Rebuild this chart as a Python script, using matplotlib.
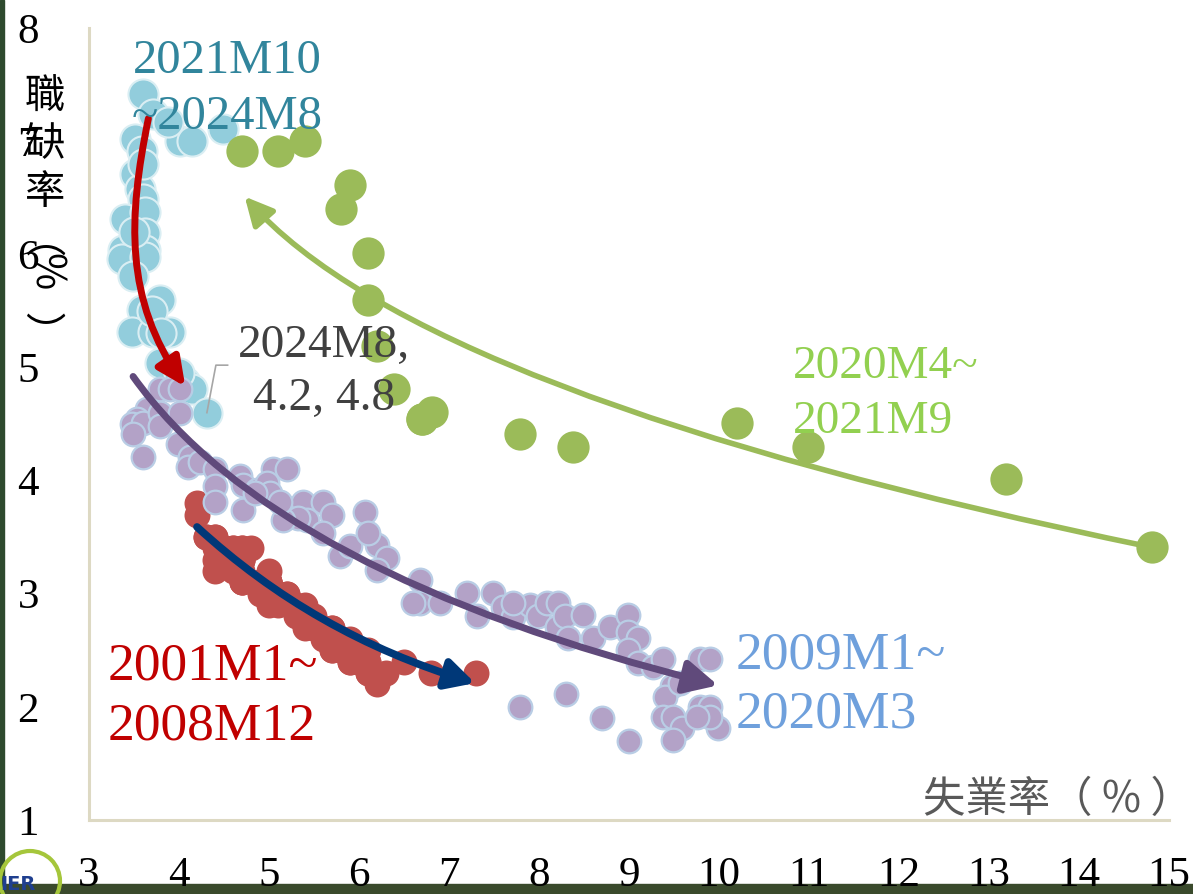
import matplotlib
matplotlib.use("Agg")
import matplotlib.pyplot as plt
from matplotlib.path import Path
from matplotlib.patches import FancyArrowPatch, Circle, Rectangle

plt.rcParams['font.family'] = ['Liberation Serif', 'Noto Sans CJK TC', 'DejaVu Sans']

# ---- data (unemployment rate %, job openings rate %) ----
# 2001M1 ~ 2008M12
red_u = [4.2, 4.2, 4.3, 4.4, 4.3, 4.5, 4.6, 4.9, 5.0, 5.3, 5.5, 5.7,
         5.7, 5.7, 5.7, 5.9, 5.8, 5.8, 5.8, 5.7, 5.7, 5.7, 5.9, 6.0,
         5.8, 5.9, 5.9, 6.0, 6.1, 6.3, 6.2, 6.1, 6.1, 6.0, 5.8, 5.7,
         5.7, 5.6, 5.8, 5.6, 5.6, 5.6, 5.5, 5.4, 5.4, 5.5, 5.4, 5.4,
         5.3, 5.4, 5.2, 5.2, 5.1, 5.0, 5.0, 4.9, 5.0, 5.0, 5.0, 4.9,
         4.7, 4.8, 4.7, 4.7, 4.6, 4.6, 4.7, 4.7, 4.5, 4.4, 4.5, 4.4,
         4.6, 4.5, 4.4, 4.5, 4.4, 4.6, 4.7, 4.6, 4.7, 4.7, 4.7, 5.0,
         5.0, 4.9, 5.1, 5.0, 5.4, 5.6, 5.8, 6.1, 6.1, 6.5, 6.8, 7.3]
red_v = [3.8, 3.7, 3.5, 3.4, 3.5, 3.3, 3.3, 3.1, 3.0, 2.8, 2.8, 2.7,
         2.7, 2.6, 2.6, 2.6, 2.5, 2.6, 2.6, 2.6, 2.5, 2.6, 2.5, 2.5,
         2.5, 2.4, 2.4, 2.4, 2.4, 2.3, 2.2, 2.3, 2.3, 2.4, 2.5, 2.5,
         2.6, 2.6, 2.6, 2.7, 2.7, 2.7, 2.7, 2.7, 2.8, 2.7, 2.8, 2.8,
         2.9, 2.9, 3.0, 3.0, 3.0, 3.1, 3.1, 3.1, 3.1, 3.2, 3.1, 3.1,
         3.4, 3.4, 3.4, 3.3, 3.4, 3.4, 3.3, 3.3, 3.4, 3.5, 3.4, 3.5,
         3.3, 3.4, 3.3, 3.3, 3.2, 3.3, 3.2, 3.2, 3.1, 3.1, 3.1, 3.0,
         3.1, 3.0, 2.9, 2.9, 2.8, 2.7, 2.6, 2.5, 2.4, 2.4, 2.3, 2.3]

# 2009M1 ~ 2020M3
purple_u = [3.79, 3.90, 4.01, 3.64, 3.53, 3.48, 3.60, 3.49, 3.60, 3.79, 3.79, 4.01, 3.99,
            4.12, 4.10, 4.23, 4.40, 4.40, 4.40, 4.68, 4.71, 4.87, 5.04, 5.20, 4.98, 5.01,
            4.71, 5.38, 5.42, 5.32, 5.16,
            4.84, 5.12, 5.60, 5.70, 5.60, 5.79, 6.07, 6.20, 6.31, 6.68, 6.68,
            5.90, 6.10, 6.20, 6.60, 6.90, 7.20, 7.31, 7.49, 7.60, 7.71, 7.90, 7.99, 8.09,
            7.71, 8.21, 8.20, 8.29, 8.32, 8.49, 8.60, 8.79, 8.99, 8.99, 9.10, 8.99, 9.10,
            9.27, 9.38, 9.48, 9.40, 9.57, 9.79, 9.90, 9.79, 9.90, 9.99, 9.38, 9.49, 9.59,
            9.49, 7.79, 8.30, 8.70, 9.00, 9.90, 9.76]
purple_v = [4.81, 4.81, 4.81, 4.63, 4.54, 4.50, 4.51, 4.41, 4.21, 4.60, 4.48, 4.60, 4.32,
            4.21, 4.12, 4.16, 4.10, 3.95, 3.81, 4.04, 3.96, 3.92, 4.10, 4.10, 3.98, 3.89,
            3.74, 3.81, 3.65, 3.67, 3.65,
            3.89, 3.81, 3.81, 3.70, 3.54, 3.33, 3.72, 3.43, 3.32, 3.12, 2.92,
            3.42, 3.54, 3.21, 2.92, 2.92, 3.01, 2.80, 3.01, 2.88, 2.79, 2.90, 2.80, 2.92,
            2.92, 2.92, 2.71, 2.80, 2.61, 2.81, 2.61, 2.71, 2.81, 2.66, 2.61, 2.50, 2.39,
            2.35, 2.42, 2.18, 2.09, 2.21, 2.42, 2.42, 2.00, 2.00, 1.81, 1.91, 1.91, 1.81,
            1.71, 2.00, 2.11, 1.90, 1.70, 1.91, 1.91]

# 2020M4 ~ 2021M9
green_u = [14.81, 13.19, 10.99, 10.20, 8.38, 7.79, 6.81, 6.70, 6.70, 6.39, 6.20, 6.10,
           6.10, 5.80, 5.90, 5.40, 5.10, 4.70]
green_v = [3.41, 4.01, 4.30, 4.51, 4.30, 4.41, 4.61, 4.54, 4.54, 4.81, 5.19, 5.60,
           6.01, 6.40, 6.61, 7.00, 6.91, 6.91]

# 2021M10 ~ 2024M8
blue_u = [3.60, 3.71, 3.51, 4.01, 4.14, 3.88, 4.49, 3.59, 3.51, 3.57, 3.60, 3.40, 3.62,
          3.62, 3.38, 3.62, 3.37, 3.62, 3.49, 3.59, 3.79, 3.48, 3.71, 3.90, 3.79, 4.07,
          4.14, 4.31, 3.60, 3.50, 3.70, 3.80, 4.00]
blue_v = [7.42, 7.24, 7.02, 7.00, 7.00, 7.17, 7.11, 6.91, 6.71, 6.58, 6.49, 6.31, 6.37,
          6.19, 6.04, 6.04, 5.96, 5.98, 5.81, 5.51, 5.60, 5.31, 5.31, 5.31, 5.04, 4.87,
          4.81, 4.60, 6.80, 6.20, 5.50, 5.30, 4.95]

x_ticks = list(range(3, 16))
y_ticks = list(range(1, 9))

# trend arrows (bezier control points, data coords)
red_arrow = [(3.66, 7.20), (3.43, 6.31), (3.40, 5.60), (4.07, 4.83)]
purple_arrow = [(3.49, 4.92), (5.06, 3.17), (9.99, 2.19)]
navy_arrow = [(4.20, 3.59), (5.50, 2.64), (7.29, 2.21)]
green_arrow = [(14.81, 3.41), (6.69, 4.74), (4.73, 6.51)]

fig = plt.figure(figsize=(11.93, 8.94), dpi=100)
ax = fig.add_axes([89/1193, 74/894, 1080/1193, 792/894])

ax.scatter(red_u, red_v, s=350, color='#C0504D', linewidths=0, zorder=2)
ax.scatter(blue_u, blue_v, s=470, color='#92CDDC', edgecolors='#DAEEF3', linewidths=1.5, zorder=3)
ax.scatter(purple_u, purple_v, s=290, color='#B3A2C7', edgecolors='#B9CDE5', linewidths=1.6, zorder=4)
ax.scatter(green_u, green_v, s=540, color='#9BBB59', linewidths=0, zorder=5)


def curve_arrow(pts, color, lw, hl, hw):
    if len(pts) == 4:
        codes = [Path.MOVETO, Path.CURVE4, Path.CURVE4, Path.CURVE4]
    else:
        codes = [Path.MOVETO, Path.CURVE3, Path.CURVE3]
    arr = FancyArrowPatch(path=Path(pts, codes),
                          arrowstyle='-|>,head_length=%g,head_width=%g' % (hl, hw),
                          mutation_scale=1, color=color, lw=lw, zorder=6)
    ax.add_patch(arr)


curve_arrow(red_arrow, '#C00000', 5, 17, 8)
curve_arrow(purple_arrow, '#604A7B', 5, 20, 10)
curve_arrow(navy_arrow, '#003878', 5.5, 17, 9)
curve_arrow(green_arrow, '#9BBB59', 4, 17, 8.5)

# labels
ax.text(4.54, 7.46, '2021M10\n~2024M8', color='#31859C', fontsize=35,
        ha='center', va='center', linespacing=1.33, zorder=7)
ax.text(5.61, 4.96, '2024M8,\n4.2, 4.8', color='#404040', fontsize=34,
        ha='center', va='center', linespacing=1.33, zorder=7)
ax.plot([4.54, 4.41, 4.31], [5.02, 5.02, 4.60], color='#A6A6A6', lw=1.2, zorder=7)
ax.text(10.82, 4.76, '2020M4~\n2021M9', color='#92D050', fontsize=34,
        ha='left', va='center', linespacing=1.38, zorder=7)
ax.text(10.18, 2.19, '2009M1~\n2020M3', color='#6FA0DC', fontsize=38.5,
        ha='left', va='center', linespacing=1.3, zorder=7)
ax.text(3.21, 2.09, '2001M1~\n2008M12', color='#C00000', fontsize=38.5,
        ha='left', va='center', linespacing=1.33, zorder=7)

ax.set_xlim(3, 15)
ax.set_ylim(1, 8)
ax.set_xticks(x_ticks)
ax.set_yticks(y_ticks)
ax.tick_params(length=0, labelsize=31, labelcolor='black')
ax.tick_params(axis='x', pad=26)
ax.tick_params(axis='y', pad=36)
for side in ['top', 'right']:
    ax.spines[side].set_visible(False)
for side in ['left', 'bottom']:
    ax.spines[side].set_color('#DDD9C3')
    ax.spines[side].set_linewidth(2.2)

cjk = ['Noto Sans CJK TC', 'DejaVu Sans']
fig.text(1.0, 1 - 800/894, '失業率（ % ）', family=cjk, fontsize=30.5,
         color='#595959', ha='right', va='center')
fig.text(45/1193, 1 - 145/894, '職\n缺\n率', family=cjk, fontsize=29,
         color='black', ha='center', va='center', linespacing=1.2)
fig.text(45/1193, 1 - 240/894, '︵', family=cjk, fontsize=29,
         color='black', ha='center', va='center')
fig.text(45/1193, 1 - 272/894, '%', family=cjk, fontsize=29,
         color='black', ha='center', va='center', rotation=-90)
fig.text(45/1193, 1 - 336/894, '︶', family=cjk, fontsize=29,
         color='black', ha='center', va='center')

# background strips and logo
fig.patches.append(Rectangle((0, 0), 1, 10/894, transform=fig.transFigure,
                             color='#3A4A2C', zorder=-1))
fig.patches.append(Rectangle((0, 0), 4/1193, 1, transform=fig.transFigure,
                             color='#2E4A2E', zorder=-1))
fig.patches.append(Circle((0.30, 0.13), 0.30, transform=fig.dpi_scale_trans,
                          fill=False, ec='#A5C63B', lw=3, zorder=-1))
fig.text(0.0, 0.004, 'IER', family='DejaVu Sans', fontweight='bold', fontsize=14,
         color='#1F3F8F')

fig.savefig('out.png', dpi=100, facecolor='white')
